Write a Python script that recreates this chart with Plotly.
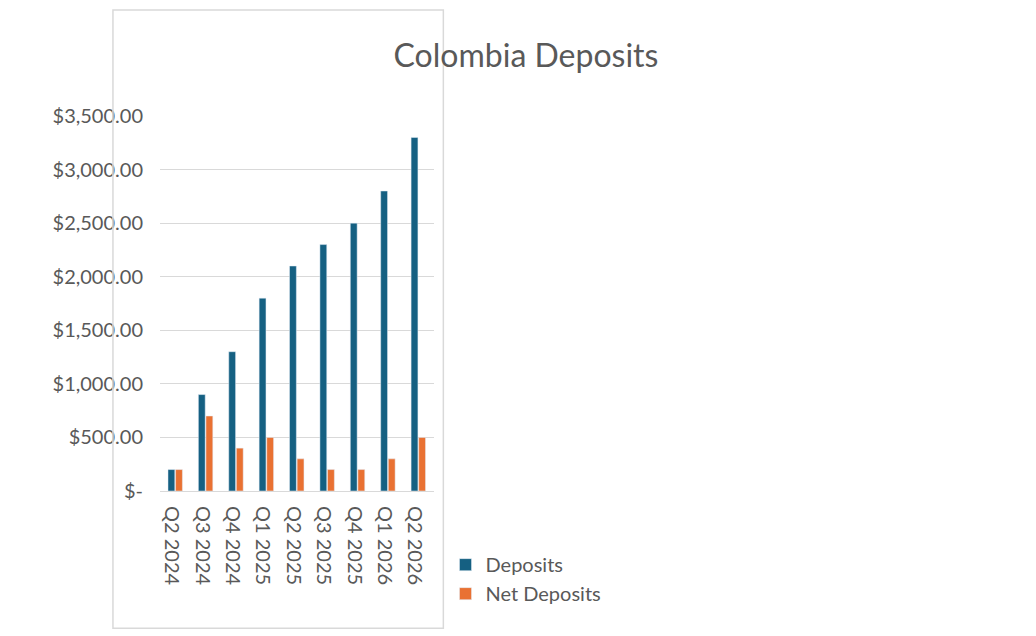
import plotly.graph_objects as go

categories = ["Q2 2024","Q3 2024","Q4 2024","Q1 2025","Q2 2025","Q3 2025","Q4 2025","Q1 2026","Q2 2026"]
deposits = [200, 900, 1300, 1800, 2100, 2300, 2500, 2800, 3300]
net_deposits = [200, 700, 400, 500, 300, 200, 200, 300, 500]
tick_vals = [0, 500, 1000, 1500, 2000, 2500, 3000, 3500]
tick_text = ["$-", "$500.00", "$1,000.00", "$1,500.00", "$2,000.00", "$2,500.00", "$3,000.00", "$3,500.00"]

fig = go.Figure()
fig.add_bar(x=categories, y=deposits, name="Deposits", marker_color="#156082")
fig.add_bar(x=categories, y=net_deposits, name="Net Deposits", marker_color="#E97132")

font = "Lato, Open Sans, sans-serif"
fig.update_layout(
    width=1036, height=636,
    margin=dict(l=152, r=49, t=108, b=153),
    paper_bgcolor="white", plot_bgcolor="white",
    font=dict(family=font, size=20, color="#595959"),
    title=dict(text="Colombia Deposits", x=0.5, xref="container", xanchor="center", y=0.925, yanchor="middle",
               font=dict(size=32, color="#595959", family=font)),
    barmode="group", bargap=0.5, bargroupgap=0.1,
    showlegend=True,
    legend=dict(orientation="h", xref="container", x=0.5, xanchor="center", y=-0.235, yanchor="middle",
                font=dict(size=20, color="#595959"), itemwidth=30),
    shapes=[dict(type="rect", xref="paper", yref="paper", x0=-0.172, x1=1.036, y0=-0.366, y1=1.283,
                 line=dict(color="#D9D9D9", width=1.5))],
)
fig.update_yaxes(range=[0, 3500], tickvals=tick_vals, ticktext=tick_text,
                 gridcolor="#D9D9D9", gridwidth=1, zeroline=False, ticks="", ticklabelstandoff=16)
fig.update_xaxes(showline=True, linecolor="#D9D9D9", linewidth=1, ticks="")
fig.write_html("out.html")
